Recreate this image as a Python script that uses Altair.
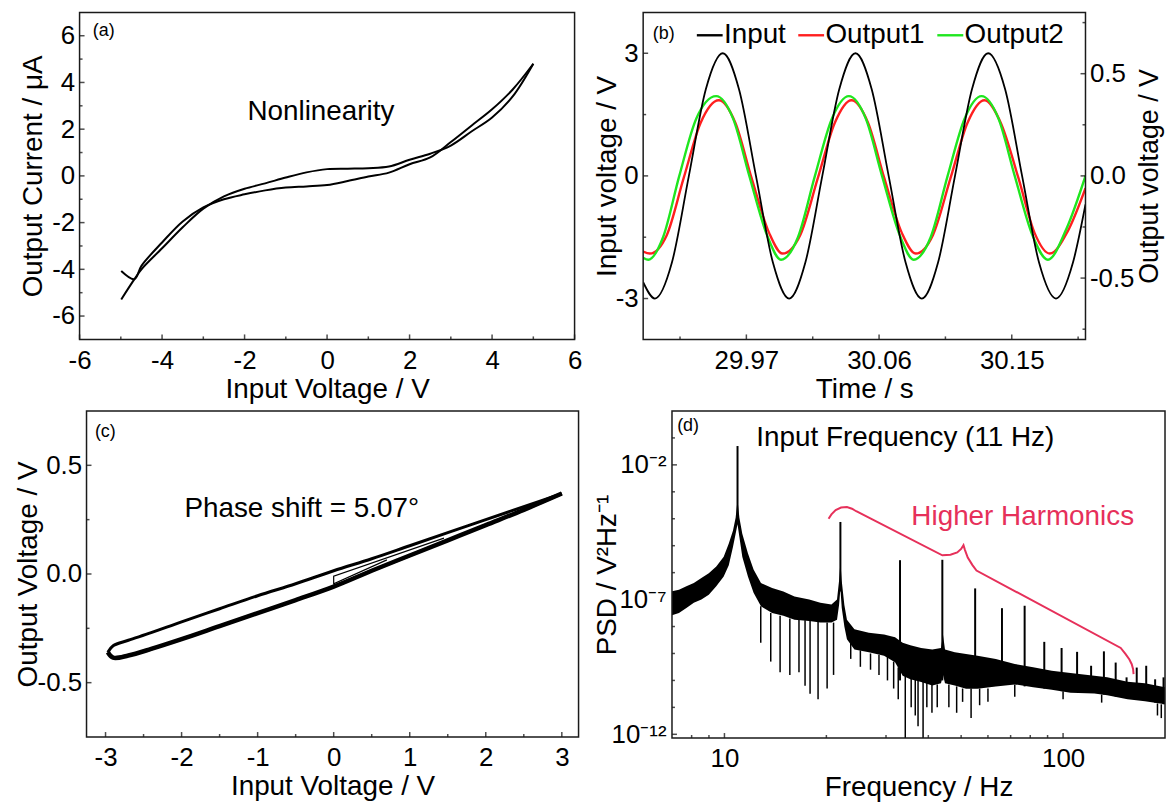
import altair as alt
import pandas as pd

FONT = "Liberation Sans"
MINUS = "replace(datum.label, '\u2212', '-')"
RED_ANN = "#e6305a"
FRAME = "#1a1a1a"

# ---------------- (a) I-V hysteresis ----------------
iv_up_v = [-4.99, -4.67, -4.5, -4.0, -3.5, -3.0, -2.5, -2.0, -1.5, -1.0, -0.5, 0.0, 0.5, 1.0, 1.5, 2.0, 2.5, 3.0, 3.5, 4.0, 4.5, 5.0]
iv_up_i = [-5.29, -4.42, -4.0, -3.1, -2.2, -1.4, -0.88, -0.55, -0.32, -0.07, 0.15, 0.29, 0.31, 0.33, 0.40, 0.69, 0.95, 1.3, 1.9, 2.5, 3.4, 4.8]
iv_dn_v = [5.0, 4.5, 4.0, 3.5, 3.0, 2.5, 2.0, 1.5, 1.0, 0.5, 0.0, -0.5, -1.0, -1.5, -2.0, -2.5, -3.0, -3.5, -4.0, -4.5, -4.67, -4.99]
iv_dn_i = [4.8, 3.7, 2.85, 2.15, 1.45, 0.79, 0.50, 0.14, -0.03, -0.22, -0.39, -0.45, -0.50, -0.62, -0.79, -1.0, -1.35, -1.95, -2.85, -3.85, -4.42, -4.07]
a_xticks = [-6, -4, -2, 0, 2, 4, 6]
a_xminor = [-5, -3, -1, 1, 3, 5]
a_yticks = [-6, -4, -2, 0, 2, 4, 6]
a_yminor = [-5, -3, -1, 1, 3, 5]

# ---------------- (b) time traces ----------------
t_in = [29.900, 29.908, 29.9195, 29.931, 29.9425, 29.954, 29.965, 29.9765, 29.988, 29.999,
        30.010, 30.0215, 30.033, 30.044, 30.055, 30.0665, 30.078, 30.089, 30.100, 30.1115,
        30.123, 30.134, 30.1455, 30.157, 30.1685, 30.180, 30.1915, 30.200]
v_in = [-2.6, -3.0, -2.12, 0.0, 2.12, 3.0, 2.12, 0.0, -2.12, -3.0,
        -2.12, 0.0, 2.12, 3.0, 2.12, 0.0, -2.12, -3.0, -2.12, 0.0,
        2.12, 3.0, 2.12, 0.0, -2.12, -3.0, -2.12, -0.7]
t_o1 = [29.900, 29.9045, 29.916, 29.9275, 29.939, 29.9513, 29.9625, 29.9735, 29.9855, 29.9945,
        30.0065, 30.0185, 30.030, 30.0413, 30.0525, 30.0635, 30.0755, 30.0848, 30.0965, 30.1085,
        30.120, 30.1315, 30.1425, 30.1545, 30.1655, 30.1758, 30.188, 30.200]
v_o1 = [-0.37, -0.38, -0.29, -0.01, 0.26, 0.37, 0.26, -0.01, -0.28, -0.38,
        -0.29, -0.01, 0.26, 0.37, 0.26, -0.01, -0.28, -0.38, -0.29, -0.01,
        0.26, 0.37, 0.26, -0.01, -0.28, -0.38, -0.27, -0.06]
t_o2 = [29.900, 29.9035, 29.9135, 29.9245, 29.936, 29.9495, 29.961, 29.972, 29.984, 29.9935,
        30.005, 30.0165, 30.028, 30.0395, 30.051, 30.062, 30.074, 30.0835, 30.095, 30.1065,
        30.118, 30.1295, 30.141, 30.152, 30.164, 30.1745, 30.187, 30.200]
v_o2 = [-0.40, -0.41, -0.30, 0.0, 0.28, 0.39, 0.28, 0.0, -0.29, -0.41,
        -0.30, 0.0, 0.28, 0.39, 0.28, 0.0, -0.29, -0.41, -0.30, 0.0,
        0.28, 0.39, 0.28, 0.0, -0.29, -0.41, -0.26, 0.0]
series = ["Input", "Output1", "Output2"]
series_colors = ["#000000", "#ff1f1f", "#1fe61f"]
legend_t0 = [29.9364, 30.0052, 30.0995]
legend_t1 = [29.9539, 30.0227, 30.1171]
legend_text_t = [29.9548, 30.0236, 30.1180]
legend_y = 3.44
b_xticks = [29.97, 30.06, 30.15]
b_xminor = [29.925, 30.015, 30.105, 30.195]
b_yticks = [-3, 0, 3]
b_yminor = [-1.5, 1.5]
b_rticks = [-0.5, 0.0, 0.5]
b_rminor = [-0.75, -0.25, 0.25, 0.75]

# ---------------- (c) Lissajous loop ----------------
loop_up_x = [-2.97, -2.9, -2.7, -2.4, -2.0, -1.5, -1.0, -0.5, 0.0, 0.5, 1.0, 1.5, 2.0, 2.5, 3.0]
loop_up_y = [-0.36, -0.33, -0.305, -0.27, -0.22, -0.16, -0.10, -0.045, 0.015, 0.07, 0.13, 0.19, 0.25, 0.31, 0.37]
loop_dn_x = [3.0, 2.5, 2.0, 1.5, 1.0, 0.5, 0.0, -0.5, -1.0, -1.5, -2.0, -2.4, -2.7, -2.9, -2.97]
loop_dn_y = [0.37, 0.295, 0.225, 0.155, 0.085, 0.015, -0.058, -0.12, -0.18, -0.24, -0.30, -0.345, -0.375, -0.385, -0.36]
start_x = [0.70, 0.0, 0.0, 1.45]
start_y = [0.065, -0.045, -0.01, 0.165]
c_xticks = [-3, -2, -1, 0, 1, 2, 3]
c_xminor = [-2.5, -1.5, -0.5, 0.5, 1.5, 2.5]
c_yticks = [-0.5, 0.0, 0.5]
c_yminor = [-0.25, 0.25]

# ---------------- (d) power spectral density ----------------
band_f = [6.94, 7.34, 7.72, 8.12, 8.55, 8.99, 9.46, 9.95, 10.3, 10.6, 10.79, 10.93, 11.07, 11.29, 11.73,
          12.19, 12.82, 13.83, 14.93, 16.1, 17.8, 19.2, 20.7, 21.5, 21.8, 22.0, 22.2, 22.6, 23.0,
          24.2, 26.7, 29.6, 31.9, 33.6, 35.4, 38.1, 41.1, 43.6, 44.2, 44.8, 47.9, 51.7, 55.9,
          63.3, 72.0, 81.6, 92.6, 105.2, 123.7, 135.0, 155.0, 174.5, 200.0]
band_hi = [2.0e-7, 2.3e-7, 3.1e-7, 4.1e-7, 6.3e-7, 9.5e-7, 1.7e-6, 3.9e-6, 1.2e-5, 3.7e-5, 1.1e-4, 5.0e-4, 1.1e-4, 2.8e-5, 5.2e-6,
           1.3e-6, 4.1e-7, 2.7e-7, 2.0e-7, 1.3e-7, 1.0e-7, 7.6e-8, 6.6e-8, 1.0e-7, 5.0e-7, 2.5e-6, 5.0e-7, 6.3e-8, 1.8e-8,
           7.9e-9, 5.9e-9, 5.1e-9, 4.0e-9, 2.5e-9, 2.0e-9, 1.6e-9, 1.4e-9, 1.6e-9, 5.0e-9, 1.4e-9, 1.1e-9, 9.5e-10, 8.3e-10,
           6.3e-10, 4.1e-10, 3.1e-10, 2.3e-10, 1.9e-10, 1.5e-10, 1.3e-10, 8.9e-11, 7.9e-11, 5.6e-11]
band_lo = [2.5e-8, 3.2e-8, 4.9e-8, 7.6e-8, 1.0e-7, 1.5e-7, 3.1e-7, 7.2e-7, 1.9e-6, 9.1e-6, 2.8e-5, 6.3e-5, 2.1e-5, 3.9e-6, 7.2e-7,
           1.8e-7, 5.6e-8, 3.2e-8, 2.5e-8, 1.8e-8, 1.6e-8, 1.4e-8, 1.4e-8, 1.8e-8, 6.3e-8, 2.5e-7, 5.0e-8, 1.0e-8, 3.4e-9,
           1.4e-9, 1.1e-9, 8.3e-10, 4.7e-10, 1.5e-10, 1.1e-10, 8.7e-11, 6.5e-11, 7.9e-11, 1.6e-10, 7.9e-11, 6.5e-11, 4.9e-11, 4.9e-11,
           6.0e-11, 7.1e-11, 5.6e-11, 4.5e-11, 3.5e-11, 3.3e-11, 2.8e-11, 2.0e-11, 1.7e-11, 1.3e-11]
harm_f = [10.93, 22.0, 33.0, 44.0, 55.0, 66.0, 77.0, 88.0, 99.0, 110.0, 121.0, 132.0, 143.0, 154.0, 165.0, 176.0, 187.0, 198.0]
harm_peak = [5.0e-2, 7.6e-5, 2.9e-6, 3.0e-6, 2.6e-7, 4.8e-8, 5.9e-8, 2.7e-9, 1.6e-9, 1.15e-9, 3.5e-10, 1.2e-9,
             4.6e-10, 1.3e-10, 3.0e-10, 3.5e-10, 1.1e-10, 1.3e-10]
harm_base = [1.0e-4, 2.0e-7, 1.0e-10, 1.0e-10, 1.0e-10, 1.0e-10, 6.0e-11, 5.0e-11, 4.0e-11, 4.0e-11, 3.5e-11, 3.0e-11,
             2.5e-11, 2.2e-11, 2.0e-11, 1.8e-11, 1.5e-11, 1.3e-11]
dip_f = [12.8, 13.7, 14.6, 15.6, 16.6, 17.3, 17.9, 18.9, 20.1, 21.0, 23.6, 25.2, 27.0, 28.6, 30.3, 31.6, 32.6,
         34.2, 35.6, 36.6, 37.3, 38.6, 39.6, 41.0, 42.5, 46.0, 48.5, 50.5, 53.5, 56.7, 60.0, 72.0, 100.0, 130.0, 190.0, 195.0]
dip_top = [5.6e-8, 3.2e-8, 2.5e-8, 2.0e-8, 1.8e-8, 1.7e-8, 1.6e-8, 1.5e-8, 1.4e-8, 1.4e-8, 2.5e-9, 1.3e-9, 1.0e-9, 9.0e-10,
           8.0e-10, 5.0e-10, 3.0e-10, 1.5e-10, 1.2e-10, 1.1e-10, 1.0e-10, 9.0e-11, 8.0e-11, 7.0e-11, 7.0e-11, 7.0e-11,
           6.0e-11, 5.0e-11, 5.0e-11, 5.0e-11, 5.0e-11, 7.0e-11, 4.0e-11, 3.0e-11, 1.4e-11, 1.3e-11]
dip_min = [2.5e-9, 5.0e-10, 2.0e-10, 1.6e-10, 2.0e-10, 6.3e-11, 3.2e-11, 2.0e-11, 5.0e-11, 1.6e-10, 6.3e-10, 3.2e-10,
           2.5e-10, 1.6e-10, 1.0e-10, 5.0e-11, 2.0e-11, 1.0e-13, 1.0e-11, 5.0e-12, 2.0e-12, 1.0e-13, 1.0e-11, 6.3e-12,
           1.0e-11, 1.0e-11, 6.3e-12, 1.6e-11, 4.0e-12, 1.2e-11, 1.6e-11, 2.5e-11, 2.0e-11, 1.5e-11, 5.0e-12, 4.0e-12]
brace_f = [20.3, 20.7, 21.3, 22.1, 23.0, 23.8, 24.5, 44.0, 46.5, 48.7, 50.0, 50.8, 51.3, 52.3, 54.0, 55.5,
           148.0, 153.0, 157.0, 159.5, 161.0, 161.5]
brace_p = [1.0e-4, 1.45e-4, 2.1e-4, 2.6e-4, 2.7e-4, 2.35e-4, 1.9e-4, 4.4e-6, 4.6e-6, 5.6e-6, 7.6e-6, 1.05e-5,
           7.0e-6, 3.6e-6, 1.9e-6, 1.2e-6, 1.6e-9, 9.5e-10, 6.0e-10, 4.0e-10, 2.6e-10, 1.7e-10]
d_xticks = [10, 100]
d_xminor = [8, 9, 20, 30, 40, 50, 60, 70, 80, 90]
d_yticks = [1e-12, 1e-7, 1e-2]
d_yminor = [1e-11, 1e-10, 1e-9, 1e-8, 1e-6, 1e-5, 1e-4, 1e-3, 1e-1]


# ---------------- helpers ----------------
def ax_label(orient, values, title, fmt, lpad, tpad, **kw):
    d = dict(orient=orient, values=values, title=title, format=fmt, ticks=False, domain=False,
             grid=False, labelPadding=lpad, titlePadding=tpad, labelExpr=MINUS, labelFlush=False,
             labelOverlap=False, labelFont=FONT, labelFontSize=26, labelColor="black",
             titleFont=FONT, titleFontSize=28, titleFontWeight="normal", titleColor="black")
    d.update(kw)
    return alt.Axis(**d)


def xticks(values, xs, ys, ymin, size):
    return alt.Chart(pd.DataFrame({"v": values})).mark_tick(
        orient="vertical", size=size, thickness=1.5, color="black", yOffset=-size / 2).encode(
        x=alt.X("v:Q", scale=xs, axis=None), y=alt.Y(datum=ymin, scale=ys, axis=None))


def yticks(values, xs, ys, xedge, size, right=False):
    return alt.Chart(pd.DataFrame({"v": values})).mark_tick(
        orient="horizontal", size=size, thickness=1.5, color="black",
        xOffset=(-size / 2 if right else size / 2)).encode(
        y=alt.Y("v:Q", scale=ys, axis=None), x=alt.X(datum=xedge, scale=xs, axis=None))


def frame(xs, ys, x0, x1, y0, y1):
    df = pd.DataFrame({"x0": [x0], "x1": [x1], "y0": [y0], "y1": [y1]})
    return alt.Chart(df).mark_rect(fillOpacity=0, stroke=FRAME, strokeWidth=1.5).encode(
        x=alt.X("x0:Q", scale=xs, axis=None), x2="x1:Q",
        y=alt.Y("y0:Q", scale=ys, axis=None), y2="y1:Q")


def note(x, y, text, xs, ys, size=28, align="center", color="black"):
    df = pd.DataFrame({"x": [x], "y": [y], "t": [text]})
    return alt.Chart(df).mark_text(font=FONT, fontSize=size, align=align, baseline="middle",
                                   color=color).encode(
        x=alt.X("x:Q", scale=xs, axis=None),
        y=alt.Y("y:Q", scale=ys, axis=None),
        text="t:N")


def spacer(w, h):
    return alt.Chart(pd.DataFrame({"s": [0]})).mark_rule(opacity=0).encode(
        x=alt.value(0), x2=alt.value(w), y=alt.value(0), y2=alt.value(h)
    ).properties(width=w, height=h)


# ---------------- panel (a) ----------------
df_a = pd.DataFrame({
    "v": iv_up_v + iv_dn_v,
    "i": iv_up_i + iv_dn_i,
    "b": ["up"] * len(iv_up_v) + ["dn"] * len(iv_dn_v),
    "k": list(range(len(iv_up_v))) + list(range(len(iv_dn_v))),
})
xa = alt.Scale(domain=[-6, 6], nice=False, zero=False)
ya = alt.Scale(domain=[-7, 7], nice=False, zero=False)
a_line = alt.Chart(df_a).mark_line(color="black", strokeWidth=2, interpolate="catmull-rom").encode(
    x=alt.X("v:Q", scale=xa, axis=ax_label("bottom", a_xticks, "Input Voltage / V", "d", 8, 2)),
    y=alt.Y("i:Q", scale=ya, axis=ax_label("left", a_yticks, "Output Current / \u03bcA", "d", 5, 4)),
    detail="b:N", order="k:Q")
panel_a = alt.layer(
    a_line,
    xticks(a_xticks, xa, ya, -7, 5), xticks(a_xminor, xa, ya, -7, 3),
    yticks(a_yticks, xa, ya, -6, 5), yticks(a_yminor, xa, ya, -6, 3),
    note(-0.15, 2.72, "Nonlinearity", xa, ya),
    note(-5.68, 6.2, "(a)", xa, ya, size=18, align="left"),
    frame(xa, ya, -6, 6, -7, 7),
).resolve_axis(x="independent", y="independent").properties(width=498, height=329)

# ---------------- panel (b) ----------------
df_b = pd.DataFrame({
    "t": t_in + t_o1 + t_o2,
    "v": v_in + v_o1 + v_o2,
    "s": ["Input"] * len(t_in) + ["Output1"] * len(t_o1) + ["Output2"] * len(t_o2),
    "k": list(range(len(t_in))) + list(range(len(t_o1))) + list(range(len(t_o2))),
})
df_leg = pd.DataFrame({"s": series, "t0": legend_t0, "t1": legend_t1, "tt": legend_text_t,
                       "y": [legend_y] * len(series)})
xb = alt.Scale(domain=[29.90, 30.20], nice=False, zero=False)
yb_in = alt.Scale(domain=[-4, 4], nice=False, zero=False)
yb_out = alt.Scale(domain=[-0.8, 0.8], nice=False, zero=False)
col_b = alt.Color("s:N", scale=alt.Scale(domain=series, range=series_colors), legend=None)
IN = "datum.s == 'Input'"
OUT = "datum.s != 'Input'"
b_in = alt.Chart(df_b).transform_filter(IN).mark_line(
    strokeWidth=1.8, interpolate="monotone", clip=True).encode(
    x=alt.X("t:Q", scale=xb, axis=ax_label("bottom", b_xticks, "Time / s", ".2f", 8, 2)),
    y=alt.Y("v:Q", scale=yb_in, axis=ax_label("left", b_yticks, "Input voltage / V", "d", 5, -6)),
    color=col_b, order="k:Q")
leg_line = alt.Chart(df_leg).mark_rule(strokeWidth=2.4).encode(
    x=alt.X("t0:Q", scale=xb, axis=None), x2="t1:Q",
    y=alt.Y("y:Q", scale=yb_in, axis=None), color=col_b)
leg_text = alt.Chart(df_leg).mark_text(font=FONT, fontSize=28, align="left", baseline="middle",
                                       color="black").encode(
    x=alt.X("tt:Q", scale=xb, axis=None), y=alt.Y("y:Q", scale=yb_in, axis=None), text="s:N")
in_group = alt.layer(
    b_in,
    xticks(b_xticks, xb, yb_in, -4, 5), xticks(b_xminor, xb, yb_in, -4, 3),
    yticks(b_yticks, xb, yb_in, 29.90, 5), yticks(b_yminor, xb, yb_in, 29.90, 3),
    leg_line, leg_text,
    note(29.9065, 3.46, "(b)", xb, yb_in, size=18, align="left"),
    frame(xb, yb_in, 29.90, 30.20, -4, 4),
).resolve_axis(x="independent", y="independent")
b_out = alt.Chart(df_b).transform_filter(OUT).mark_line(
    strokeWidth=2.4, interpolate="monotone", clip=True).encode(
    x=alt.X("t:Q", scale=xb, axis=None),
    y=alt.Y("v:Q", scale=yb_out, axis=ax_label("right", b_rticks, "Output voltage / V", ".1f", 4, 3,
                                                titleAngle=270, titleBaseline="top", titleFontSize=27)),
    color=col_b, order="k:Q")
out_group = alt.layer(
    b_out,
    yticks(b_rticks, xb, yb_out, 30.20, 5, right=True),
    yticks(b_rminor, xb, yb_out, 30.20, 3, right=True),
).resolve_axis(x="independent", y="independent")
panel_b = alt.layer(out_group, in_group).resolve_scale(y="independent").resolve_axis(
    x="independent", y="independent").properties(width=445, height=329)

# ---------------- panel (c) ----------------
df_c = pd.DataFrame({
    "x": loop_up_x + loop_dn_x,
    "y": loop_up_y + loop_dn_y,
    "k": list(range(len(loop_up_x) + len(loop_dn_x))),
})
df_cdn = pd.DataFrame({"x": loop_dn_x, "y": loop_dn_y, "k": list(range(len(loop_dn_x)))})
df_c0 = pd.DataFrame({"x": start_x, "y": start_y, "k": list(range(len(start_x)))})
xc = alt.Scale(domain=[-3.25, 3.22], nice=False, zero=False)
yc = alt.Scale(domain=[-0.75, 0.75], nice=False, zero=False)
c_loop = alt.Chart(df_c).mark_line(color="black", strokeWidth=3, interpolate="catmull-rom").encode(
    x=alt.X("x:Q", scale=xc, axis=ax_label("bottom", c_xticks, "Input Voltage / V", "d", 8, 2)),
    y=alt.Y("y:Q", scale=yc, axis=ax_label("left", c_yticks, "Output Voltage / V", ".1f", 5, -5)),
    order="k:Q")
c_lower = alt.Chart(df_cdn).mark_line(color="black", strokeWidth=4.5, interpolate="catmull-rom").encode(
    x=alt.X("x:Q", scale=xc, axis=None), y=alt.Y("y:Q", scale=yc, axis=None), order="k:Q")
c_start = alt.Chart(df_c0).mark_line(color="black", strokeWidth=1.2).encode(
    x=alt.X("x:Q", scale=xc, axis=None), y=alt.Y("y:Q", scale=yc, axis=None), order="k:Q")
panel_c = alt.layer(
    c_loop, c_lower, c_start,
    xticks(c_xticks, xc, yc, -0.75, 5), xticks(c_xminor, xc, yc, -0.75, 3),
    yticks(c_yticks, xc, yc, -3.25, 5), yticks(c_yminor, xc, yc, -3.25, 3),
    note(-0.42, 0.298, "Phase shift = 5.07\u00b0", xc, yc),
    note(-3.14, 0.652, "(c)", xc, yc, size=18, align="left"),
    frame(xc, yc, -3.25, 3.22, -0.75, 0.75),
).resolve_axis(x="independent", y="independent").properties(width=495, height=328)

# ---------------- panel (d) ----------------
df_band = pd.DataFrame({"f": band_f, "hi": band_hi, "lo": band_lo})
df_harm = pd.DataFrame({"f": harm_f, "peak": harm_peak, "base": harm_base})
df_dip = pd.DataFrame({"f": dip_f, "top": dip_top, "low": dip_min})
df_brace = pd.DataFrame({"f": brace_f, "p": brace_p, "k": list(range(len(brace_f)))})
xd = alt.Scale(type="log", domain=[7, 200], nice=False)
yd = alt.Scale(type="log", domain=[7.3e-13, 1.0], nice=False)
d_label = ("datum.value < 1e-9 ? '10\u207b\u00b9\u00b2' : "
           "(datum.value < 1e-4 ? '10\u207b\u2077' : '10\u207b\u00b2')")
d_band = alt.Chart(df_band).mark_area(color="black", clip=True).encode(
    x=alt.X("f:Q", scale=xd, axis=ax_label("bottom", d_xticks, "Frequency / Hz", "d", 8, 2)),
    y=alt.Y("hi:Q", scale=yd, axis=ax_label("left", d_yticks, "PSD / V\u00b2Hz\u207b\u00b9", "e", 6, -10,
                                             labelExpr=d_label)),
    y2="lo:Q")
d_harm = alt.Chart(df_harm).mark_rule(color="black", strokeWidth=2, clip=True).encode(
    x=alt.X("f:Q", scale=xd, axis=None), y=alt.Y("peak:Q", scale=yd, axis=None), y2="base:Q")
d_dip = alt.Chart(df_dip).mark_rule(color="black", strokeWidth=1.5, clip=True).encode(
    x=alt.X("f:Q", scale=xd, axis=None), y=alt.Y("top:Q", scale=yd, axis=None), y2="low:Q")
d_brace = alt.Chart(df_brace).mark_line(color=RED_ANN, strokeWidth=2).encode(
    x=alt.X("f:Q", scale=xd, axis=None), y=alt.Y("p:Q", scale=yd, axis=None), order="k:Q")
panel_d = alt.layer(
    d_band, d_dip, d_harm, d_brace,
    xticks(d_xticks, xd, yd, 7.3e-13, 5), xticks(d_xminor, xd, yd, 7.3e-13, 3),
    yticks(d_yticks, xd, yd, 7, 5), yticks(d_yminor, xd, yd, 7, 3),
    note(34.2, 0.1, "Input Frequency (11 Hz)", xd, yd),
    note(76.0, 1.15e-4, "Higher Harmonics", xd, yd, color=RED_ANN),
    note(7.25, 0.27, "(d)", xd, yd, size=18, align="left"),
    frame(xd, yd, 7, 200, 7.3e-13, 1.0),
).resolve_axis(x="independent", y="independent").properties(width=496, height=329)

# ---------------- layout ----------------
row1 = alt.hconcat(spacer(71, 329), panel_a, spacer(69, 329), panel_b, spacing=0, bounds="flush")
row2 = alt.hconcat(spacer(78, 328), panel_c, spacer(94, 328), panel_d, spacing=0, bounds="flush")
chart = alt.vconcat(row1, row2, spacing=5).properties(
    padding={"left": 0, "top": 0, "right": 0, "bottom": 0},
    background="white",
).configure(font=FONT).configure_view(stroke="transparent")

chart.save("out.html", embed_options={"renderer": "svg", "actions": False})
